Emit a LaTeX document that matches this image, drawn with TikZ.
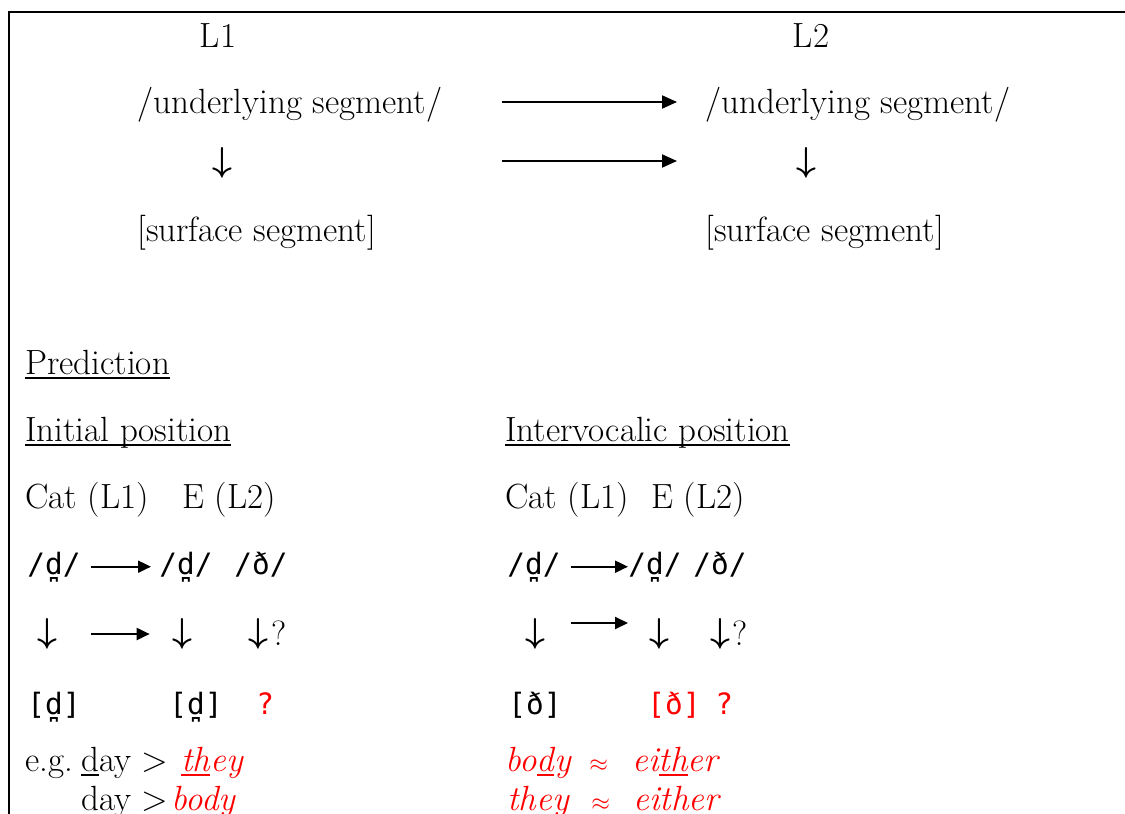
\documentclass[tikz,border=0pt]{standalone}
\usepackage{fontspec}
\newfontfamily\ipafont{DejaVu Sans Mono}
\usetikzlibrary{arrows.meta}
\newcommand{\uln}[1]{\leavevmode\setbox0\hbox{#1}\rlap{\rule[-0.15em]{\wd0}{0.06em}}\box0}
\tikzset{
  txt/.style={anchor=base west, inner sep=0pt, font=\fontsize{17.5}{21}\selectfont},
  ipa/.style={anchor=base west, inner sep=0pt, font=\fontsize{14.7}{18}\selectfont\ipafont},
  dn/.style={inner sep=0pt, font=\fontsize{18}{21}\selectfont\boldmath},
  apx/.style={anchor=base west, inner sep=0pt, font=\fontsize{13}{16}\selectfont},
  arr/.style={line width=1pt, -{Triangle[length=7.5pt,width=6.5pt]}},
  sarr/.style={line width=1pt, -{Triangle[length=6.5pt,width=6pt]}},
}
\begin{document}
\begin{tikzpicture}[x=0.5pt,y=-0.5pt]
		%%%%% START %%%%%
		\useasboundingbox (0,0) rectangle (1125,814);
		\draw[line width=1pt] (9,814) -- (9,12) -- (1125,12);
		
		\node[txt, anchor=base] (l1) at (218,47) {L1};
		\node[txt, anchor=base] (l2) at (811,47) {L2};
		\node[txt] (ul1) at (137,113) {/underlying segment/};
		\node[txt] (ul2) at (705,113) {/underlying segment/};
		\node[dn] (dn1) at (222,163) {$\downarrow$};
		\node[dn] (dn2) at (806,163) {$\downarrow$};
		\node[txt] (sf1) at (137,241) {[surface segment]};
		\node[txt] (sf2) at (705,241) {[surface segment]};
		
		\coordinate (a1s) at (502,102);
		\coordinate (a1e) at (677,102);
		\coordinate (a2s) at (502,161);
		\coordinate (a2e) at (677,161);
		\draw[arr] (a1s) -- (a1e);
		\draw[arr] (a2s) -- (a2e);
		
		\node[txt] (pred) at (25,374) {\uln{Prediction}};
		\node[txt] (ini) at (25,441) {\uln{Initial position}};
		\node[txt] (inv) at (505,441) {\uln{Intervocalic position}};
		\node[txt] (cat1) at (25,508) {Cat (L1)};
		\node[txt] (eng1) at (182,508) {E (L2)};
		\node[txt] (cat2) at (505,508) {Cat (L1)};
		\node[txt] (eng2) at (651,508) {E (L2)};
		
		\node[ipa] (ua1) at (27,574) {/d̪/};
		\node[ipa] (ub1) at (159,574) {/d̪/};
		\node[ipa] (uc1) at (234,574) {/ð/};
		\node[ipa] (ua2) at (507,574) {/d̪/};
		\node[ipa] (ub2) at (628,574) {/d̪/};
		\node[ipa] (uc2) at (693,574) {/ð/};
		\draw[sarr, shorten <=5pt, shorten >=4pt] (ua1) -- (ub1);
		\draw[sarr, shorten <=5pt, shorten >=0pt] (ua2) -- (ub2);
		
		\node[dn] (da1) at (47,634) {$\downarrow$};
		\node[dn] (db1) at (182,634) {$\downarrow$};
		\node[dn] (dc1) at (258,634) {$\downarrow$};
		\node[txt] (q1) at (271,645) {?};
		\node[dn] (da2) at (535,634) {$\downarrow$};
		\node[dn] (db2) at (659,634) {$\downarrow$};
		\node[dn] (dc2) at (720,634) {$\downarrow$};
		\node[txt] (q2) at (732,645) {?};
		\draw[sarr, shorten <=17pt, shorten >=11pt] (da1) -- (db1);
		\draw[sarr, shorten <=18pt, shorten >=15.5pt] ([yshift=5.5pt]da2.center) -- ([yshift=5.5pt]db2.center);
		
		\node[ipa] (sa1) at (27,714) {[d̪]};
		\node[ipa] (sb1) at (169,714) {[d̪]};
		\node[ipa, red] (sc1) at (256,714) {?};
		\node[ipa] (sa2) at (508,714) {[ð]};
		\node[ipa, red] (sb2) at (647,714) {[ð]};
		\node[ipa, red] (sc2) at (715,714) {?};
		
		\node[txt] (eg1) at (25,771) {e.g.};
		\node[txt] (eg2) at (81,771) {\uln{d}ay >};
		\node[txt, red] (ex1) at (181,771) {\textit{\uln{th}ey}};
		\node[txt] (ex2) at (81,810) {day >};
		\node[txt, red] (ex3) at (171,810) {\textit{body}};
		\node[txt, red] (ex4) at (505,771) {\textit{bo\uln{d}y}};
		\node[apx, red] (ap1) at (589,771) {$\approx$};
		\node[txt, red] (ex5) at (632,771) {\textit{ei\uln{th}er}};
		\node[txt, red] (ex6) at (507,810) {\textit{they}};
		\node[apx, red] (ap2) at (591,810) {$\approx$};
		\node[txt, red] (ex7) at (633,810) {\textit{either}};
		%%%%% END %%%%%
\end{tikzpicture}
\end{document}
